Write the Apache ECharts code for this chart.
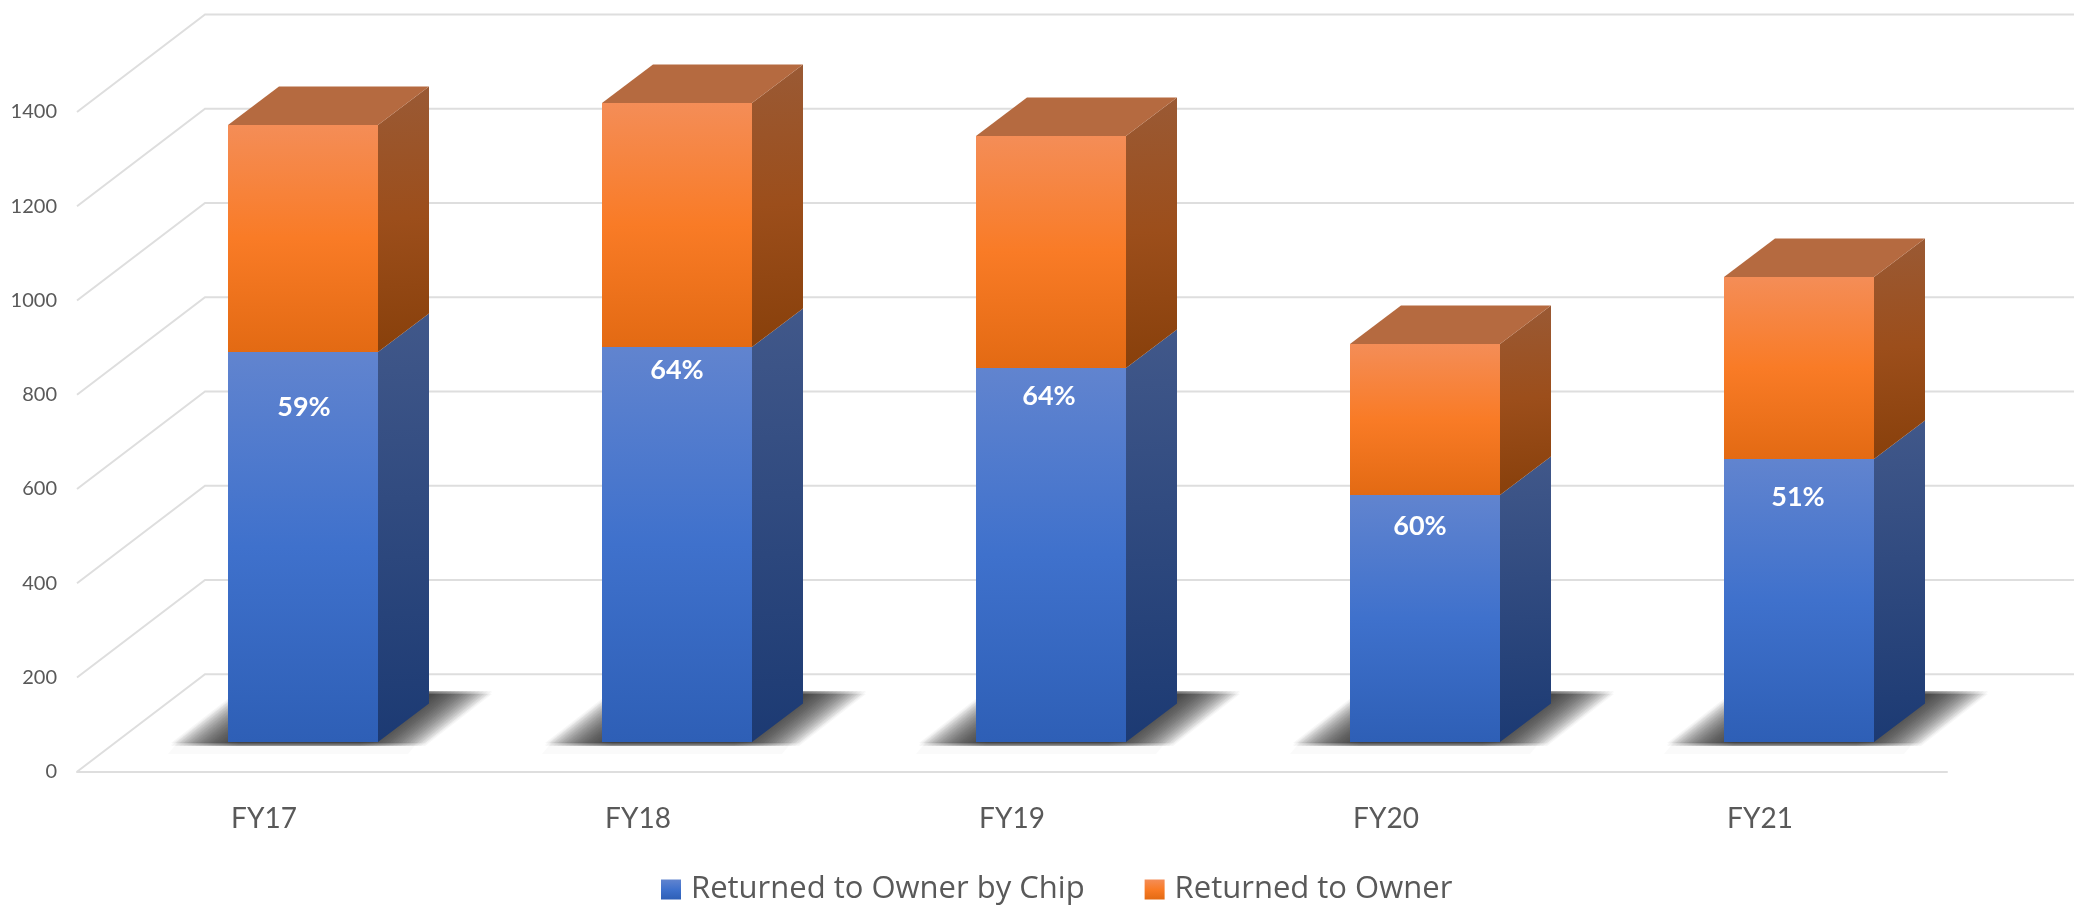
<!DOCTYPE html>
<html>
<head>
<meta charset="utf-8">
<style>html,body{margin:0;padding:0;background:#fff}#chart{width:2074px;height:909px}</style>
<script src="https://cdn.jsdelivr.net/npm/echarts@6/dist/echarts.min.js"></script>
</head>
<body>
<div id="chart"></div>
<script>
const categories = ['FY17', 'FY18', 'FY19', 'FY20', 'FY21'];
const chipName = 'Returned to Owner by Chip';
const ownerName = 'Returned to Owner';
const chipValues = [826, 838, 793, 523, 599];
const ownerValues = [483, 517, 492, 322, 387];
const percentLabels = ['59%', '64%', '64%', '60%', '51%'];
const yTicks = [0, 200, 400, 600, 800, 1000, 1200, 1400];

// layout of the fake 3-D box, in pixels
const wallDX = 128, wallDY = 97.5;
const barOffX = 38.7, barOffY = 30;
const barDX = 51, barDY = 38.5;
const barWidthRatio = 0.4;
const labelDrop = [55, 23, 28, 31, 38];
const labelShift = [1, 0, -2, -5, -1];
const blurDX = [-32, -28, -24, -20, -16, -12, -8, -4, 0, 4, 8, 12, 16, 20, 24, 28, 32];
const blurDY = [-3, -1.5, 0];

const chart = echarts.init(document.getElementById('chart'));
const G = echarts.graphic.LinearGradient;
const grad = (x2, y2, stops) => new G(0, 0, x2, y2, stops.map((c, i) => ({offset: c[0], color: c[1]})));

const chipFront = () => grad(0, 1, [[0, '#6184CF'], [0.5, '#3F71CC'], [1, '#2E5FB6']]);
const ownerFront = () => grad(0, 1, [[0, '#F48D57'], [0.5, '#F97B26'], [1, '#E36A13']]);
const chipSide = () => grad(0.3, 1, [[0, '#41588A'], [1, '#1C3A73']]);
const ownerSide = () => grad(0.3, 1, [[0, '#9A5A35'], [0.5, '#9C4E1B'], [1, '#88400B']]);

function boxGeom(api, base, top) {
  const p0 = api.coord([api.value(0), base]);
  const p1 = api.coord([api.value(0), top]);
  const w = Math.round(api.size([1, 0])[0] * barWidthRatio);
  const l = Math.round(p0[0] + barOffX - w / 2), r = l + w;
  return {l, r, yb: Math.round(p0[1] - barOffY), yt: Math.round(p1[1] - barOffY)};
}

function renderBox(frontFill, sideFill, withTop) {
  return function (params, api) {
    const g = boxGeom(api, api.value(1), api.value(2));
    const children = [
      {type: 'polygon', shape: {points: [[g.r - 1, g.yb], [g.r, g.yb], [g.r + barDX, g.yb - barDY], [g.r + barDX, g.yt - barDY], [g.r, g.yt], [g.r - 1, g.yt]]}, style: {fill: sideFill()}},
      {type: 'rect', shape: {x: g.l, y: g.yt, width: g.r - g.l, height: g.yb - g.yt}, style: {fill: frontFill()}}
    ];
    if (withTop) {
      children.push({type: 'polygon', shape: {points: [[g.l, g.yt], [g.l + barDX, g.yt - barDY], [g.r + barDX, g.yt - barDY], [g.r, g.yt]]}, style: {fill: '#B56A40'}});
    } else {
      const i = api.value(0);
      children.push({
        type: 'text',
        style: {
          text: percentLabels[i], x: (g.l + g.r) / 2 + labelShift[i], y: g.yt + labelDrop[i],
          fill: '#fff', font: 'bold 27px Lato', align: 'center', verticalAlign: 'middle'
        }
      });
    }
    return {type: 'group', children};
  };
}

function renderShadow(params, api) {
  const g = boxGeom(api, 0, 0);
  const base = [[g.l - 25, g.yb + 4], [g.r + 15, g.yb + 4], [g.r + 82, g.yb - 48], [g.l + 42, g.yb - 48]];
  const children = [{
    type: 'polygon',
    shape: {points: [[g.l - 60, g.yb + 12], [g.r + 30, g.yb + 12], [g.r + 40, g.yb], [g.l - 50, g.yb]]},
    style: {fill: 'rgba(120,120,120,0.04)'}
  }];
  blurDX.forEach(dx => blurDY.forEach(dy => {
    children.push({
      type: 'polygon',
      shape: {points: base.map(p => [p[0] + dx, p[1] + dy])},
      style: {fill: 'rgba(57,57,57,0.04)'}
    });
  }));
  return {type: 'group', children};
}

function renderWall(params, api) {
  const p = api.coord([0, api.value(1)]);
  const cs = params.coordSys;
  const st = {stroke: '#DEDEDE', lineWidth: 2, fill: 'none'};
  return {
    type: 'polyline',
    shape: {points: [[cs.x, p[1]], [cs.x + wallDX, p[1] - wallDY], [cs.x + wallDX + cs.width, p[1] - wallDY]]},
    style: st
  };
}

const idx = categories.map((c, i) => i);
chart.setOption({
  animation: false,
  backgroundColor: '#fff',
  grid: {left: 77, top: 112, width: 1870, height: 659.7},
  legend: {
    data: [
      {name: chipName, itemStyle: {color: chipFront()}},
      {name: ownerName, itemStyle: {color: ownerFront()}}
    ],
    left: 656, top: 869,
    itemWidth: 20, itemHeight: 20, itemGap: 60, icon: 'rect',
    textStyle: {color: '#595959', fontFamily: 'Open Sans', fontSize: 31, lineHeight: 20, padding: [0, 0, 0, 5]}
  },
  xAxis: {
    type: 'category', data: categories,
    axisTick: {show: false},
    axisLine: {lineStyle: {color: '#DEDEDE', width: 2}},
    axisLabel: {color: '#595959', fontFamily: 'Lato', fontSize: 28, margin: 33}
  },
  yAxis: {
    type: 'value', min: 0, max: 1400, interval: 200,
    axisLine: {show: false}, axisTick: {show: false}, splitLine: {show: false},
    axisLabel: {color: '#595959', fontFamily: 'Lato', fontSize: 20, margin: 20, formatter: v => String(v)}
  },
  series: [
    {type: 'custom', name: 'wall', silent: true, z: 1, encode: {x: 0, y: 1},
     data: yTicks.map(v => [0, v]), renderItem: renderWall},
    {type: 'custom', name: 'floor shadow', silent: true, z: 2, encode: {x: 0, y: 1},
     data: idx.map(i => [i, 0]), renderItem: renderShadow},
    {type: 'custom', name: chipName, z: 3, encode: {x: 0, y: 2},
     data: idx.map(i => [i, 0, chipValues[i]]), renderItem: renderBox(chipFront, chipSide, false)},
    {type: 'custom', name: ownerName, z: 4, encode: {x: 0, y: 2},
     data: idx.map(i => [i, chipValues[i], chipValues[i] + ownerValues[i]]), renderItem: renderBox(ownerFront, ownerSide, true)}
  ]
});
</script>
</body>
</html>
